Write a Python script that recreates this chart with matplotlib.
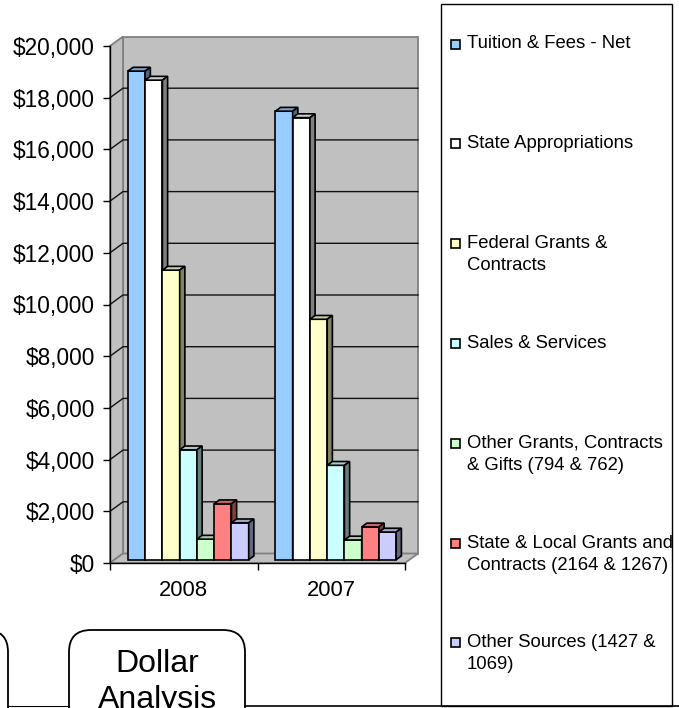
import matplotlib.pyplot as plt
from matplotlib.patches import Rectangle, Polygon, FancyBboxPatch
import matplotlib.colors as mcolors

# --- data ---
years = ["2008", "2007"]
series = [
    "Tuition & Fees - Net",
    "State Appropriations",
    "Federal Grants &\nContracts",
    "Sales & Services",
    "Other Grants, Contracts\n& Gifts (794 & 762)",
    "State & Local Grants and\nContracts (2164 & 1267)",
    "Other Sources (1427 &\n1069)",
]
vals_2008 = [18900, 18550, 11200, 4250, 794, 2164, 1427]
vals_2007 = [17350, 17100, 9300, 3650, 762, 1267, 1069]
colors = ["#99CCFF", "#FFFFFF", "#FFFFCC", "#CCFFFF", "#CCFFCC", "#FF8080", "#CCCCFF"]
yticks = list(range(0, 20001, 2000))

plt.rcParams['font.family'] = ['Liberation Sans', 'DejaVu Sans']

W, H = 679, 708
fig = plt.figure(figsize=(W / 100, H / 100), dpi=100)
fig.patch.set_facecolor("white")

# overlay in pixel units for legend / decorations
ov = fig.add_axes([0, 0, 1, 1])
ov.set_xlim(0, W)
ov.set_ylim(H, 0)
ov.axis("off")

# main chart axes = front plane of the 3D box
x0px, x1px, y0px, y1px = 110, 405, 563, 46
ax = fig.add_axes([x0px / W, (H - y0px) / H, (x1px - x0px) / W, (y0px - y1px) / H])
ax.set_xlim(0, 2)
ax.set_ylim(0, 20000)
ax.patch.set_alpha(0)

pxx = (x1px - x0px) / 2.0          # px per x unit
pxy = (y0px - y1px) / 20000.0      # px per value unit
DX = 13 / pxx                      # wall depth
DY = 9.5 / pxy
f = 0.35                           # depth position of bars
BDX = 5.2 / pxx                    # bar depth
BDY = 3.8 / pxy
bw = 0.117
wall = "#C0C0C0"
edge = "#808080"

# walls and floor
ax.add_patch(Polygon([(DX, DY), (2 + DX, DY), (2 + DX, 20000 + DY), (DX, 20000 + DY)],
                     facecolor=wall, edgecolor=edge, lw=1.3, clip_on=False, zorder=0.5))
ax.add_patch(Polygon([(0, 0), (DX, DY), (DX, 20000 + DY), (0, 20000)],
                     facecolor=wall, edgecolor=edge, lw=1.3, clip_on=False, zorder=0.6))
ax.add_patch(Polygon([(0, 0), (2, 0), (2 + DX, DY), (DX, DY)],
                     facecolor=wall, edgecolor=edge, lw=1.3, clip_on=False, zorder=0.6))
for v in yticks[1:-1]:
    ax.plot([0, DX, 2 + DX], [v, v + DY, v + DY], color="#111111", lw=1.0,
            clip_on=False, zorder=0.8)


def shade(c, k):
    r, g, b = mcolors.to_rgb(c)
    return (r * k, g * k, b * k)


z = 3
for gi, vals in enumerate([vals_2008, vals_2007]):
    left = gi + 0.5 - len(vals) * bw / 2 + f * DX
    base = f * DY
    for si, v in enumerate(vals):
        xl = left + si * bw
        top = base + v
        ax.add_patch(Rectangle((xl, base), bw, v, facecolor=colors[si], edgecolor="black",
                               lw=1.2, clip_on=False, zorder=z))
        ax.add_patch(Polygon([(xl, top), (xl + bw, top), (xl + bw + BDX, top + BDY), (xl + BDX, top + BDY)],
                             facecolor=shade(colors[si], 0.8), edgecolor="black", lw=1.2,
                             clip_on=False, zorder=z))
        ax.add_patch(Polygon([(xl + bw, base), (xl + bw + BDX, base + BDY), (xl + bw + BDX, top + BDY), (xl + bw, top)],
                             facecolor=shade(colors[si], 0.5), edgecolor="black", lw=1.2,
                             clip_on=False, zorder=z))
        z += 0.1

# axes styling
for s in ["top", "right"]:
    ax.spines[s].set_visible(False)
for s in ["left", "bottom"]:
    ax.spines[s].set_color("black")
    ax.spines[s].set_linewidth(1.0)
    ax.spines[s].set_zorder(2)
ax.set_yticks(yticks)
ax.set_yticklabels(["${:,}".format(v) for v in yticks])
ax.tick_params(axis="y", direction="out", length=5, width=1, pad=6, labelsize=16.3)
ax.set_xticks([0, 1, 2])
ax.set_xticklabels([])
ax.set_xticks([0.5, 1.5], minor=True)
ax.set_xticklabels(years, minor=True)
ax.tick_params(axis="x", which="major", direction="out", length=5, width=1)
ax.tick_params(axis="x", which="minor", length=0, pad=12, labelsize=15.8)

# legend box
ov.add_patch(Rectangle((441, 4), 231, 702, facecolor="white", edgecolor="black", lw=1.0))
for i, lab in enumerate(series):
    yc = 44 + i * 99.8
    ov.add_patch(Rectangle((450.5, yc - 4.5), 9, 9, facecolor=colors[i], edgecolor="black", lw=1.2))
    for j, line in enumerate(lab.split("\n")):
        ov.text(467, yc + j * 22, line, fontsize=13.3, va="center", ha="left")

# bottom decorations
ov.plot([8, 69], [706, 706], color="black", lw=0.8)
ov.plot([245, W], [706, 706], color="black", lw=1.2)
ov.add_patch(FancyBboxPatch((-180, 652), 166, 120, boxstyle="round,pad=22",
                            facecolor="white", edgecolor="black", lw=1.3))
ov.add_patch(FancyBboxPatch((91, 652), 132, 120, boxstyle="round,pad=22",
                            facecolor="white", edgecolor="black", lw=1.3))
ov.text(157, 672, "Dollar", fontsize=23, ha="center", va="baseline")
ov.text(157, 708, "Analysis", fontsize=23, ha="center", va="baseline")

fig.savefig("out.png", dpi=100)
